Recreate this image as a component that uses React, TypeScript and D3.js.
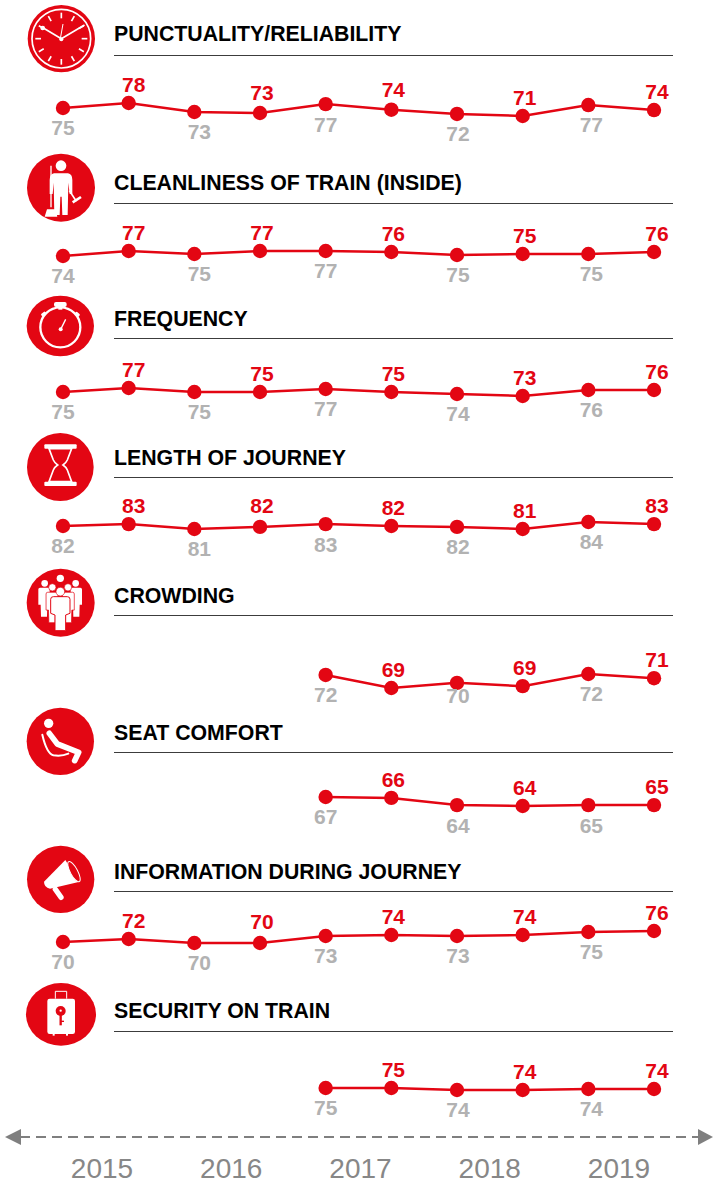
import React from "react";
import * as d3 from "d3";

const W = 714, H = 1187;
const RED = "#e30613", GREY = "#b2b2b2", AXIS = "#7f7f7f", YEARC = "#878787";
const FONT = "'Liberation Sans', Arial, sans-serif";

const years = ["2015", "2016", "2017", "2018", "2019"];
const waves = d3.range(10);

const punctualityLabels = [75, 78, 73, 73, 77, 74, 72, 71, 77, 74];
const punctualityLevels = [75.3, 78, 73.15, 72.6, 77.4, 74.4, 72.1, 71, 76.9, 74.2];
const cleanlinessLabels = [74, 77, 75, 77, 77, 76, 75, 75, 75, 76];
const cleanlinessLevels = [74, 77, 75.2, 77, 77, 76.4, 74.6, 75.2, 75.2, 76.4];
const frequencyLabels = [75, 77, 75, 75, 77, 75, 74, 73, 76, 76];
const frequencyLevels = [75, 77, 75, 75, 76.5, 75, 74, 73, 76, 76];
const lengthLabels = [82, 83, 81, 82, 83, 82, 82, 81, 84, 83];
const lengthLevels = [82.3, 83.1, 81, 81.9, 83.1, 82.3, 81.9, 81, 84, 83.1];
const crowdingLabels = [72, 69, 70, 69, 72, 71];
const crowdingLevels = [71.8, 69, 70.1, 69.4, 72, 71.1];
const seatLabels = [67, 66, 64, 64, 65, 65];
const seatLevels = [67, 66.7, 64.3, 64, 64.3, 64.3];
const informationLabels = [70, 72, 70, 70, 73, 74, 73, 74, 75, 76];
const informationLevels = [70.5, 72, 70, 70, 73.5, 74, 73.5, 74, 75.5, 76];
const securityLabels = [75, 75, 74, 74, 74, 74];
const securityLevels = [75, 75, 74, 74, 74.5, 74.5];

const w = "#fff";

const Clock = () => {
  const cx = 184, cy = 116;
  return (
    <g>
      <circle cx={cx} cy={cy} r={101} fill={RED} />
      <circle cx={cx} cy={cy} r={88} fill="none" stroke={w} strokeWidth={5} />
      {d3.range(12).map((i) => {
        const a = (i * Math.PI) / 6;
        return <line key={i} x1={cx + 61 * Math.sin(a)} y1={cy - 61 * Math.cos(a)} x2={cx + 78 * Math.sin(a)} y2={cy - 78 * Math.cos(a)} stroke={w} strokeWidth={5} />;
      })}
      <path d="M184,116 L130,84 M184,116 L252,76" stroke={w} strokeWidth={5} strokeLinecap="round" />
      <path d="M181,116 L189,72" stroke={w} strokeWidth={3} />
      <circle cx={128} cy={84} r={7} fill={w} />
      <circle cx={184} cy={118} r={6} fill={w} />
    </g>
  );
};

const Cleaner = () => (
  <g>
    <circle cx={183} cy={563} r={102} fill={RED} />
    <circle cx={183} cy={497} r={16} fill={w} />
    <path d="M162,520 L204,520 Q217,522 217,540 L217,582 L209,582 L205,548 L203,645 L187,645 L185,590 L181,590 L179,645 L163,645 L161,548 L158,582 L149,582 L149,540 Q149,522 162,520 Z" fill={w} />
    <line x1={153} y1={497} x2={153} y2={622} stroke={w} strokeWidth={4} />
    <path d="M134,650 L141,628 L167,628 L172,650 Z" fill={w} />
    <line x1={208} y1={572} x2={229} y2={604} stroke={w} strokeWidth={5} />
    <line x1={218} y1={607} x2={243} y2={591} stroke={w} strokeWidth={8} />
  </g>
);

const Stopwatch = () => (
  <g transform="translate(0,870)">
    <ellipse cx={181} cy={108} rx={101} ry={91} fill={RED} />
    <circle cx={181} cy={112} r={60} fill="none" stroke={w} strokeWidth={7} />
    <rect x={162} y={36} width={38} height={15} rx={6} fill={w} />
    <rect x={175} y={50} width={12} height={9} fill={w} />
    <rect x={123} y={68} width={15} height={9} rx={3} fill={w} transform="rotate(-40 130 72)" />
    <rect x={225} y={68} width={15} height={9} rx={3} fill={w} transform="rotate(40 232 72)" />
    <line x1={182} y1={118} x2={197} y2={88} stroke={w} strokeWidth={4} />
    <circle cx={182} cy={118} r={6} fill={w} />
  </g>
);

const Hourglass = () => (
  <g transform="translate(0,870)">
    <ellipse cx={181} cy={531} rx={100} ry={102} fill={RED} />
    <rect x={133} y={463} width={97} height={13} rx={3} fill={w} />
    <rect x={133} y={575} width={97} height={13} rx={3} fill={w} />
    <path d="M147,476 L160,510 Q164,519 173,525 Q164,531 160,540 L147,575 L215,575 L202,540 Q198,531 189,525 Q198,519 202,510 L215,476 Z" fill="none" stroke={w} strokeWidth={5} />
  </g>
);

const Crowd = () => {
  const body = "M-17,0 Q-17,-5 -12,-5 L12,-5 Q17,-5 17,0 L17,46 L10,46 L9,82 L-9,82 L-10,46 L-17,46 Z";
  return (
    <g transform="translate(0,1680)">
      <circle cx={182} cy={128} r={102} fill={RED} />
      <circle cx={134} cy={70} r={10} fill={w} />
      <circle cx={181} cy={55} r={11} fill={w} />
      <circle cx={227} cy={70} r={10} fill={w} />
      <path d={body} transform="translate(132,88)" fill={w} />
      <path d={body} transform="translate(229,88)" fill={w} />
      <circle cx={157} cy={82} r={11} fill={w} stroke={RED} strokeWidth={2} />
      <circle cx={204} cy={82} r={11} fill={w} stroke={RED} strokeWidth={2} />
      <path d={body} transform="translate(156,102) scale(1.05)" fill={w} stroke={RED} strokeWidth={2} />
      <path d={body} transform="translate(205,102) scale(1.05)" fill={w} stroke={RED} strokeWidth={2} />
      <circle cx={181} cy={95} r={13} fill={w} stroke={RED} strokeWidth={2} />
      <path d="M152,118 Q152,110 160,110 L202,110 Q210,110 210,118 L210,160 L197,165 L197,212 L165,212 L165,165 L152,160 Z" fill={w} stroke={RED} strokeWidth={3} />
    </g>
  );
};

const Seat = () => (
  <g transform="translate(0,1680)">
    <circle cx={181} cy={544} r={101} fill={RED} />
    <circle cx={146} cy={490} r={14} fill={w} />
    <path d="M148,520 L172,552 L236,577 L224,602" fill="none" stroke={w} strokeWidth={17} strokeLinejoin="round" strokeLinecap="round" />
    <path d="M127,524 Q140,580 160,586 Q185,590 205,581" fill="none" stroke={w} strokeWidth={6} strokeLinecap="round" />
  </g>
);

const Megaphone = () => (
  <g transform="translate(0,2520)">
    <circle cx={182} cy={118} r={101} fill={RED} />
    <path d="M132,125 L196,60 L236,126 L150,146 Q132,142 132,125 Z" fill={w} />
    <line x1={166} y1={148} x2={183} y2={172} stroke={w} strokeWidth={16} strokeLinecap="round" />
    <ellipse cx={222} cy={95} rx={11} ry={34} transform="rotate(-28 222 95)" fill={RED} stroke={w} strokeWidth={3} />
  </g>
);

const Suitcase = () => (
  <g transform="translate(0,2520)">
    <ellipse cx={183} cy={523} rx={105} ry={94} fill={RED} />
    <path d="M166,476 L166,454 L200,454 L200,476" fill="none" stroke={w} strokeWidth={3} />
    <rect x={142} y={476} width={83} height={106} rx={7} fill={w} />
    <rect x={158} y={580} width={6} height={7} fill={w} />
    <rect x={198} y={580} width={6} height={7} fill={w} />
    <circle cx={182} cy={513} r={15} fill={RED} />
    <circle cx={182} cy={512} r={3.5} fill={w} />
    <line x1={182} y1={522} x2={182} y2={556} stroke={RED} strokeWidth={7} />
    <line x1={182} y1={544} x2={192} y2={544} stroke={RED} strokeWidth={4} />
  </g>
);

const rowDefs = [
  { title: "PUNCTUALITY/RELIABILITY", labels: punctualityLabels, levels: punctualityLevels, domain: [71, 78], range: [116, 103], start: 0, base: 41, rule: 55, nudge: { 3: -2.5, 5: -1.5 }, Icon: Clock },
  { title: "CLEANLINESS OF TRAIN (INSIDE)", labels: cleanlinessLabels, levels: cleanlinessLevels, domain: [74, 77], range: [256, 251], start: 0, base: 190, rule: 203, nudge: {}, Icon: Cleaner },
  { title: "FREQUENCY", labels: frequencyLabels, levels: frequencyLevels, domain: [73, 77], range: [396, 388], start: 0, base: 326, rule: 338, nudge: {}, Icon: Stopwatch },
  { title: "LENGTH OF JOURNEY", labels: lengthLabels, levels: lengthLevels, domain: [81, 84], range: [529, 522], start: 0, base: 465, rule: 477, nudge: { 3: -3 }, Icon: Hourglass },
  { title: "CROWDING", labels: crowdingLabels, levels: crowdingLevels, domain: [69, 72], range: [688, 674], start: 4, base: 603, rule: 615, nudge: { 6: -7 }, Icon: Crowd },
  { title: "SEAT COMFORT", labels: seatLabels, levels: seatLevels, domain: [64, 67], range: [806, 797], start: 4, base: 740, rule: 752, nudge: {}, Icon: Seat },
  { title: "INFORMATION DURING JOURNEY", labels: informationLabels, levels: informationLevels, domain: [70, 76], range: [943, 931], start: 0, base: 879, rule: 891, nudge: { 3: -3 }, Icon: Megaphone },
  { title: "SECURITY ON TRAIN", labels: securityLabels, levels: securityLevels, domain: [74, 75], range: [1090, 1088], start: 4, base: 1018, rule: 1031, nudge: {}, Icon: Suitcase },
];

const labelDx = [0, 5, 5, 2, 0, 2, 1, 2, 3, 3];

export default function App() {
  const x = d3.scalePoint<number>().domain(waves).range([63, 654]);
  const yearX = d3.scalePoint<string>().domain(years).range([102, 619]);
  return (
    <svg width={W} height={H} viewBox={`0 0 ${W} ${H}`} style={{ position: "absolute", left: 0, top: 0, display: "block", background: "#fff" }} fontFamily={FONT}>
      {rowDefs.map((r) => {
        const y = d3.scaleLinear().domain(r.domain).range(r.range);
        const pts = r.levels.map((v, i) => [x(r.start + i)!, y(v)] as [number, number]);
        const line = d3.line();
        return (
          <g key={r.title}>
            <g transform="scale(0.33333)"><r.Icon /></g>
            <text x={114} y={r.base} fontSize={21.3} fontWeight={700} fill="#000">{r.title}</text>
            <line x1={114} x2={673} y1={r.rule + 0.5} y2={r.rule + 0.5} stroke="#3c3c3c" strokeWidth={1} />
            <path d={line(pts)!} fill="none" stroke={RED} strokeWidth={2.5} />
            {pts.map((p, i) => <circle key={i} cx={p[0]} cy={p[1]} r={7.2} fill={RED} />)}
            {pts.map((p, i) => {
              const idx = r.start + i;
              const isRed = idx % 2 === 1;
              const nudge = (r.nudge as Record<number, number>)[idx] ?? 0;
              return (
                <text key={i} x={p[0] + labelDx[idx]} y={(isRed ? p[1] - 11 : p[1] + 27.4) + nudge} textAnchor="middle" fontSize={21} fontWeight={700} fill={isRed ? RED : GREY}>
                  {r.labels[i]}
                </text>
              );
            })}
          </g>
        );
      })}
      <line x1={20} x2={698} y1={1137} y2={1137} stroke={AXIS} strokeWidth={2} strokeDasharray="10 6" />
      <path d={d3.line()([[5, 1137], [21, 1129], [21, 1145]])! + "Z"} fill={AXIS} />
      <path d={d3.line()([[713, 1137], [698, 1129], [698, 1145]])! + "Z"} fill={AXIS} />
      {years.map((yr) => (
        <text key={yr} x={yearX(yr)} y={1178} textAnchor="middle" fontSize={28} fill={YEARC}>{yr}</text>
      ))}
    </svg>
  );
}
